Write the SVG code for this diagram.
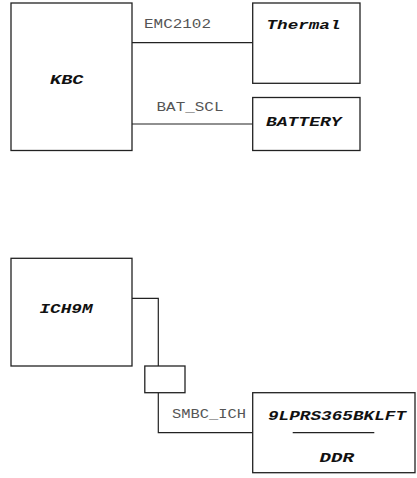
<svg xmlns="http://www.w3.org/2000/svg" width="417" height="478" viewBox="0 0 417 478">
<style>
.box{fill:#fff;stroke:#222;stroke-width:1.3}
.wire{fill:none;stroke:#222;stroke-width:1.2}
.nl{font-family:"Liberation Mono","DejaVu Sans Mono",monospace;font-weight:bold;font-style:italic;font-size:13px;fill:#111}
.el{font-family:"Liberation Mono","DejaVu Sans Mono",monospace;font-size:12px;fill:#555}
</style>
<rect width="417" height="478" fill="#fff"/>
<g id="connectors">
<path class="wire" d="M132 42.7H252.7"/>
<path class="wire" d="M132 124H252.7"/>
<path class="wire" d="M132 298.3H158.3V366"/>
<path class="wire" d="M158.3 392.7V432.7H252.7"/>
<text class="el" x="144" y="28.3" textLength="67" lengthAdjust="spacingAndGlyphs">EMC2102</text>
<text class="el" x="156.5" y="110.7" textLength="67" lengthAdjust="spacingAndGlyphs">BAT_SCL</text>
<text class="el" x="172" y="418" textLength="74" lengthAdjust="spacingAndGlyphs">SMBC_ICH</text>
</g>
<g id="kbc">
<rect class="box" x="11" y="3" width="121" height="147.5"/>
<text class="nl" x="50" y="84" textLength="33.5" lengthAdjust="spacingAndGlyphs">KBC</text>
</g>
<g id="thermal">
<rect class="box" x="252.7" y="3" width="107.3" height="80.3"/>
<text class="nl" x="266.5" y="29.3" textLength="74" lengthAdjust="spacingAndGlyphs">Thermal</text>
</g>
<g id="battery">
<rect class="box" x="252.7" y="97.5" width="107.3" height="53"/>
<text class="nl" x="266" y="126" textLength="75.5" lengthAdjust="spacingAndGlyphs">BATTERY</text>
</g>
<g id="ich9m">
<rect class="box" x="11" y="258.3" width="121" height="107.7"/>
<text class="nl" x="39.5" y="312.7" textLength="53" lengthAdjust="spacingAndGlyphs">ICH9M</text>
</g>
<g id="smallbox">
<rect class="box" x="144.8" y="366" width="40.2" height="26.7"/>
</g>
<g id="ddr">
<rect class="box" x="252.7" y="392.7" width="162.3" height="80"/>
<text class="nl" x="268" y="420" textLength="138" lengthAdjust="spacingAndGlyphs">9LPRS365BKLFT</text>
<path class="wire" d="M292.7 432.7H374.3"/>
<text class="nl" x="319.5" y="461.7" textLength="34.5" lengthAdjust="spacingAndGlyphs">DDR</text>
</g>
</svg>
